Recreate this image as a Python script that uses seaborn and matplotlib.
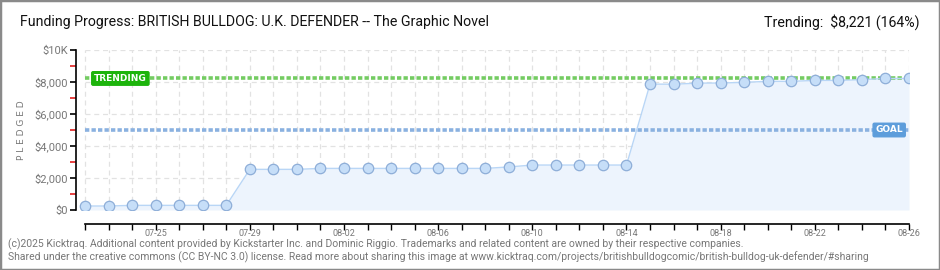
import numpy as np
import pandas as pd
import matplotlib
matplotlib.use("Agg")
import matplotlib.pyplot as plt
import matplotlib.dates as mdates
from matplotlib.ticker import FixedLocator, FuncFormatter
from matplotlib.patches import Rectangle
import seaborn as sns

# ---- data ----
dates = pd.date_range("2025-07-22", "2025-08-26", freq="D")
pledged = [250, 250, 290, 290, 290, 290, 290, 2540, 2540, 2540, 2600, 2600,
           2600, 2600, 2600, 2600, 2600, 2600, 2690, 2810, 2810, 2810, 2810,
           2810, 7870, 7860, 7930, 7935, 7980, 8040, 8040, 8100, 8100, 8145,
           8221, 8221]
goal = 5000
trending = 8221
trending_pct = 164
title = "Funding Progress: BRITISH BULLDOG: U.K. DEFENDER -- The Graphic Novel"
y_major = [0, 2000, 4000, 6000, 8000, 10000]
y_labels = ["$0", "$2,000", "$4,000", "$6,000", "$8,000", "$10K"]
y_minor = [1000, 3000, 5000, 7000, 9000]
footer1 = ("(c)2025 Kicktraq. Additional content provided by Kickstarter Inc. and Dominic Riggio. "
           "Trademarks and related content are owned by their respective companies.")
footer2 = ("Shared under the creative commons (CC BY-NC 3.0) license. Read more about sharing this image at "
           "www.kicktraq.com/projects/britishbulldogcomic/british-bulldog-uk-defender/#sharing")

df = pd.DataFrame({"date": dates, "pledged": pledged})

sns.set_theme(style="white")
FONT = ["Roboto", "DejaVu Sans"]
plt.rcParams["font.family"] = FONT

W, H = 940, 270
fig = plt.figure(figsize=(W / 100, H / 100), dpi=100)
fig.patch.set_facecolor("white")

def fx(px):
    return px / W

def fy(py):
    return 1 - py / H

ax_left, ax_right, ax_top, ax_bottom = 76, 909, 50, 210
ax = fig.add_axes([fx(ax_left), fy(ax_bottom), fx(ax_right - ax_left), (ax_bottom - ax_top) / H])
ax.set_facecolor("white")

x0 = mdates.date2num(dates[0])
x1 = mdates.date2num(dates[-1])
px_per_day = (ax_right - 85) / (x1 - x0)
ax.set_xlim(x0 - (85 - ax_left) / px_per_day, x1)
ax.set_ylim(0, 10000)

# grid
for d in dates:
    ax.axvline(mdates.date2num(d), color="#e2e2e2", lw=0.9, ls=(0, (4, 3)), zorder=0)
for yv in y_major[1:]:
    ax.plot([x0, x1], [yv, yv], color="#e2e2e2", lw=0.9, ls=(0, (4, 3)), zorder=0)

# fill and line
ax.fill_between(df["date"], df["pledged"], 0, color="#edf4fd", zorder=1, lw=0)
sns.lineplot(data=df, x="date", y="pledged", ax=ax, color="#b9d6f6", lw=1.0,
             marker="o", markersize=7.5, markerfacecolor="#c6def8",
             markeredgecolor="#8eaed8", markeredgewidth=0.9, zorder=3)

# goal and trending lines
ax.plot([x0, x1], [trending, trending], color="#74cc62", lw=2.6, ls=(0, (1.2, 0.6)), zorder=2)
ax.plot([x0, x1], [goal, goal], color="#8ab1e0", lw=2.6, ls=(0, (1.2, 0.6)), zorder=2)

ax.text(mdates.date2num(dates[0]) + 9 / px_per_day, trending, "TRENDING", color="white",
        fontsize=6.5, fontweight="bold", family=["DejaVu Sans"], va="center", ha="left", zorder=5,
        bbox=dict(boxstyle="round,pad=0.25,rounding_size=0.15", fc="#1db40c", ec="#1db40c"))
ax.text(x1 - 6 / px_per_day, goal, "GOAL", color="white",
        fontsize=6.5, fontweight="bold", family=["DejaVu Sans"], va="center", ha="right", zorder=5,
        bbox=dict(boxstyle="round,pad=0.25,rounding_size=0.15", fc="#5d9ddb", ec="#5d9ddb"))

ax.set_xlabel("")
ax.set_ylabel("P L E D G E D", color="#777777", fontsize=6.5, family=["DejaVu Sans"], labelpad=6)

# spines
for s in ["top", "right"]:
    ax.spines[s].set_visible(False)
ax.spines["left"].set_color("black")
ax.spines["left"].set_linewidth(1.2)
ax.spines["bottom"].set_color("black")
ax.spines["bottom"].set_linewidth(1.2)
ax.spines["bottom"].set_position(("outward", 10))
ax.spines["bottom"].set_bounds(x0, x1)

# y ticks
ax.yaxis.set_major_locator(FixedLocator(y_major))
ax.set_yticklabels(y_labels)
ax.yaxis.set_minor_locator(FixedLocator(y_minor))
ax.tick_params(axis="y", which="major", length=4, width=1.2, color="black",
               labelsize=8, labelcolor="#777777", pad=2, left=True)
ax.tick_params(axis="y", which="minor", length=4, width=1.2, color="#e02020", left=True)

# x ticks
ax.xaxis.set_major_locator(FixedLocator([mdates.date2num(d) for d in dates]))
ax.xaxis.set_major_formatter(FuncFormatter(
    lambda v, p: mdates.num2date(v).strftime("%m-%d") if (round(v - x0) % 4 == 3) else ""))
ax.tick_params(axis="x", which="major", length=4, width=1.0, color="black",
               labelsize=6.5, labelcolor="#777777", pad=-0.5, bottom=True)

# title and trending
fig.text(fx(20), fy(22), title, fontsize=10.2, color="#111111", va="center", ha="left")
fig.text(fx(920), fy(22), f"Trending:  $" + f"{trending:,} ({trending_pct}%)", fontsize=10.2,
         color="#111111", va="center", ha="right")

# footer
fig.text(fx(8), fy(244), footer1, fontsize=7.5, color="#777777", va="center", ha="left")
fig.text(fx(8), fy(257), footer2, fontsize=7.5, color="#777777", va="center", ha="left")

# border
fig.patches.append(Rectangle((0, 0), 1, 1, transform=fig.transFigure, fill=False,
                             ec="#8a8a8a", lw=2.5, zorder=10))

fig.savefig("out.png", dpi=100, facecolor="white")
